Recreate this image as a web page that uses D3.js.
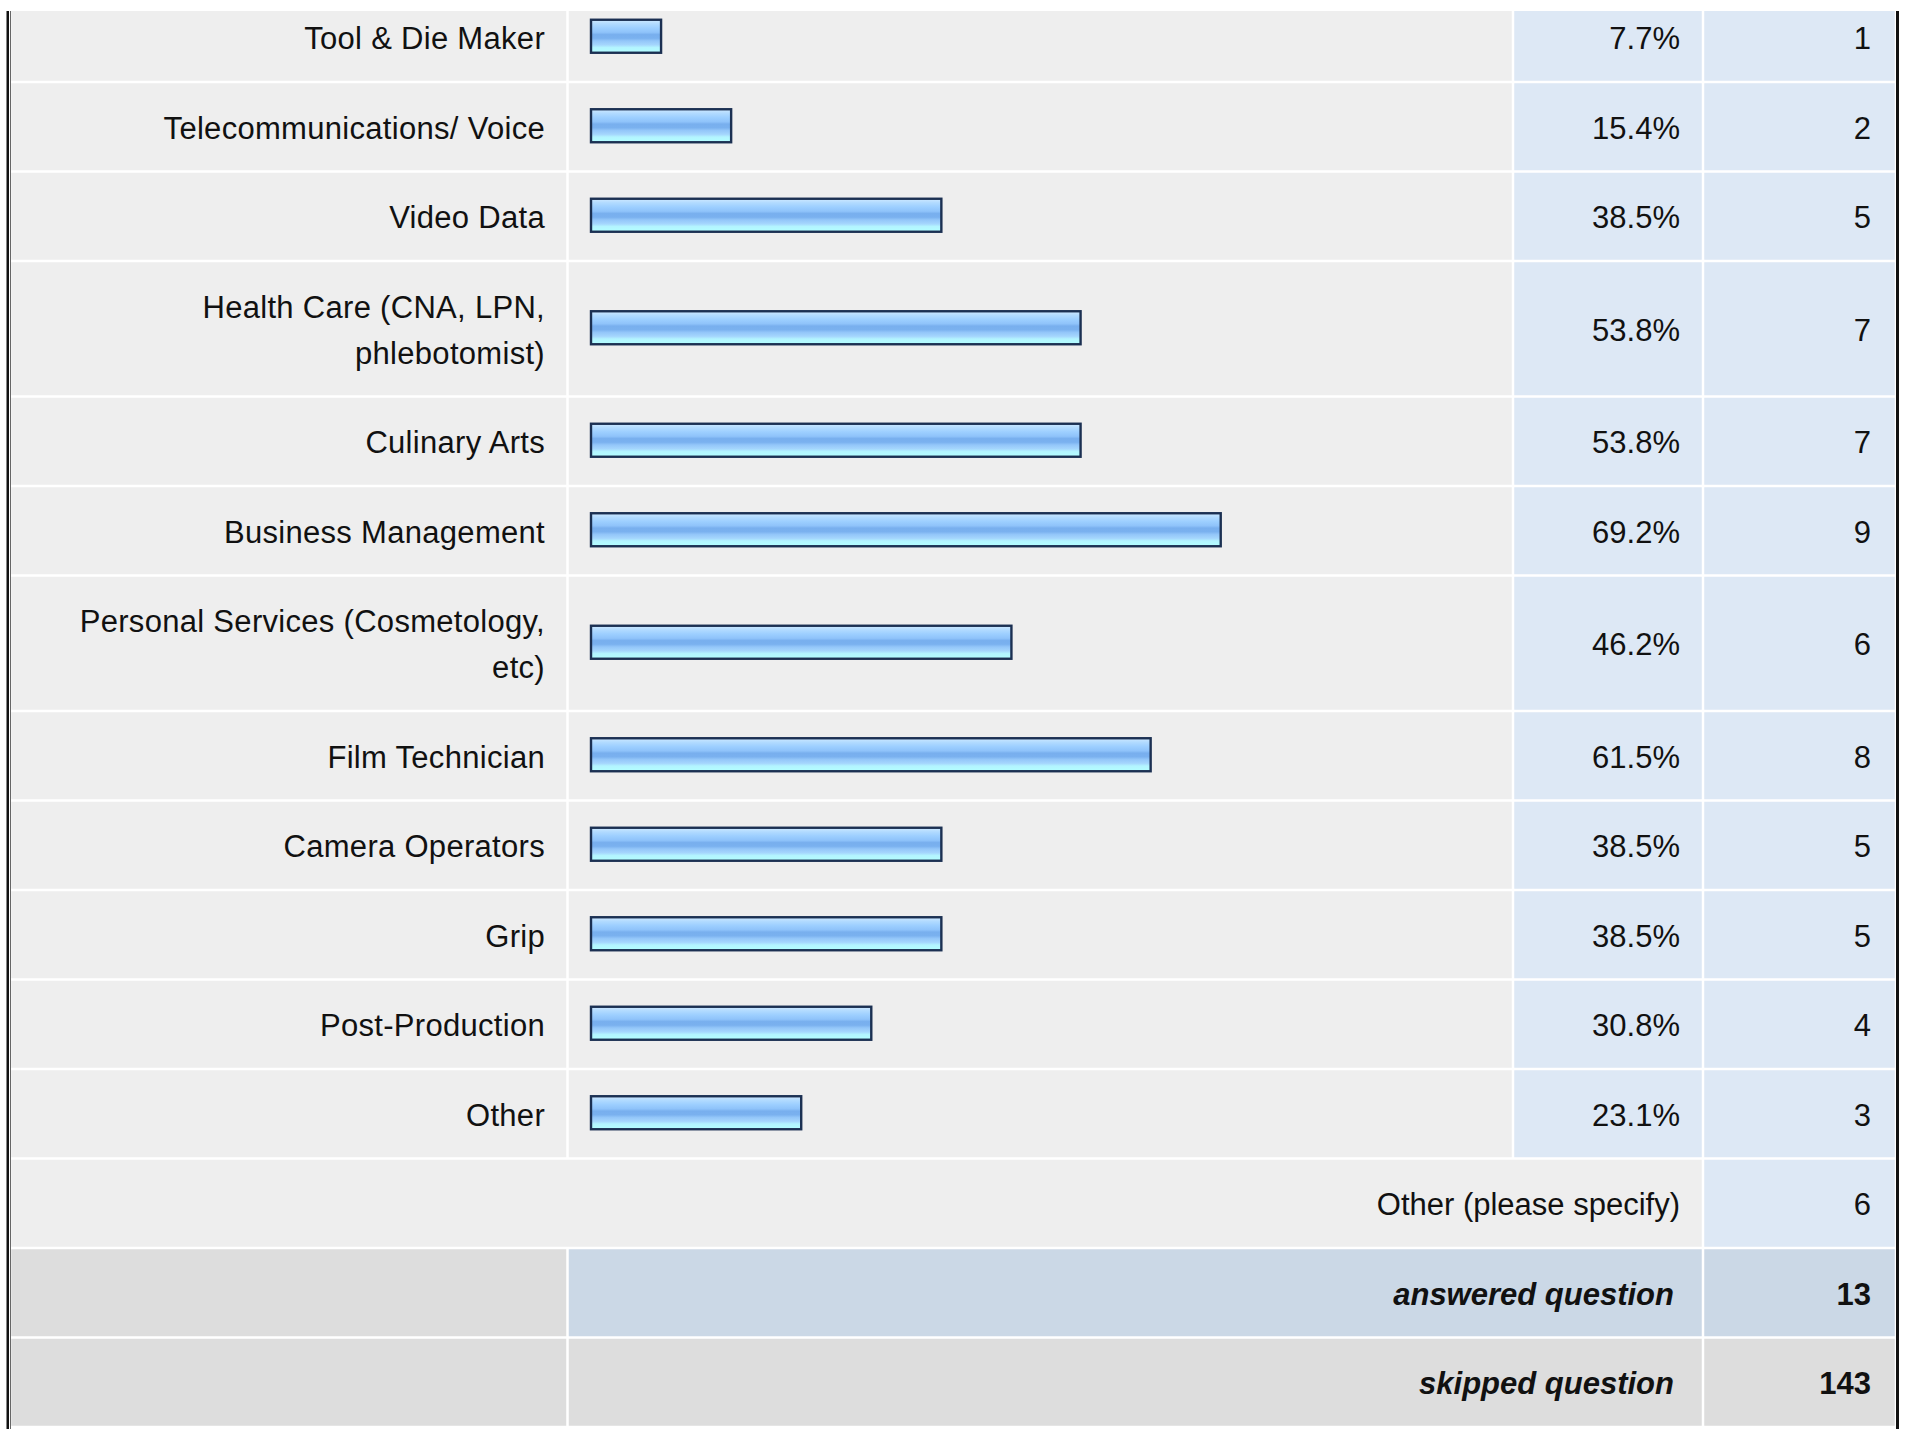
<!DOCTYPE html>
<html>
<head>
<meta charset="utf-8">
<script src="https://cdn.jsdelivr.net/npm/d3@7"></script>
<style>
  html, body { margin: 0; padding: 0; background: #ffffff; }
  svg { display: block; }
  text { font-family: "Liberation Sans", Arial, Helvetica, sans-serif; fill: #111; }
</style>
</head>
<body>
<svg id="chart" width="1913" height="1429"></svg>
<script>
// Survey answers: which training programs respondents would like offered
const categories = [
  "Tool & Die Maker",
  "Telecommunications/ Voice",
  "Video Data",
  "Health Care (CNA, LPN, phlebotomist)",
  "Culinary Arts",
  "Business Management",
  "Personal Services (Cosmetology, etc)",
  "Film Technician",
  "Camera Operators",
  "Grip",
  "Post-Production",
  "Other"
];
const percents = [7.7, 15.4, 38.5, 53.8, 53.8, 69.2, 46.2, 61.5, 38.5, 38.5, 30.8, 23.1];
const counts = [1, 2, 5, 7, 7, 9, 6, 8, 5, 5, 4, 3];

const specifyLabel = "Other (please specify)";
const specifyCount = 6;
const summaryLabels = ["answered question", "skipped question"];
const summaryCounts = [13, 143];

const W = 1913, H = 1429;
const svg = d3.select("#chart");

const FONT = 31;
const LINE = 46;
const ROW = 89.5;
const GAP = 1.25;
const BASE = 12;

// column boundaries (centre of the white gaps)
const col = { left: 10, label: 567.5, bar: 1513, pct: 1703, right: 1896 };

const x = d3.scaleLinear().domain([0, 100]).range([591, 1501]);

// gradient for the glossy bars
const defs = svg.append("defs");
const grad = defs.append("linearGradient")
  .attr("id", "barFill").attr("x1", 0).attr("y1", 0).attr("x2", 0).attr("y2", 1);
[
  [0, "#cfe9ff"], [0.12, "#b2dbff"], [0.25, "#9dcfff"], [0.38, "#8fc3fa"],
  [0.45, "#78afee"], [0.56, "#7ab1ef"], [0.64, "#93c6f9"], [0.76, "#a5d6fd"],
  [0.84, "#b3f4ff"], [1, "#b3ffff"]
].forEach(([o, c]) => grad.append("stop").attr("offset", o).attr("stop-color", c));

// wrap label text to fit the label column
const measurer = svg.append("text").attr("font-size", FONT).attr("visibility", "hidden");
function wrap(str, maxW) {
  const words = str.split(" ");
  const lines = [];
  let cur = "";
  words.forEach(w => {
    const trial = cur ? cur + " " + w : w;
    measurer.text(trial);
    if (measurer.node().getComputedTextLength() > maxW && cur) {
      lines.push(cur);
      cur = w;
    } else cur = trial;
  });
  if (cur) lines.push(cur);
  return lines;
}
const wrapped = categories.map(c => wrap(c, 500));
measurer.remove();

// row geometry
let yCursor = -7.5;
const rows = categories.map((c, i) => {
  const h = ROW + (wrapped[i].length - 1) * LINE;
  const r = { name: c, lines: wrapped[i], pct: percents[i], count: counts[i], y0: yCursor, y1: yCursor + h };
  yCursor += h;
  return r;
});
const specifyRow = { y0: yCursor, y1: yCursor + ROW }; yCursor += ROW;
const summaryRows = summaryLabels.map((l, i) => {
  const r = { label: l, count: summaryCounts[i], y0: yCursor, y1: yCursor + ROW };
  yCursor += ROW;
  return r;
});

function cell(g, x0, x1, y0, y1, fill) {
  g.append("rect")
    .attr("x", x0 + GAP).attr("y", y0 + GAP)
    .attr("width", x1 - x0 - 2 * GAP).attr("height", y1 - y0 - 2 * GAP)
    .attr("fill", fill);
}

const GREY = "#eeeeee", BLUE = "#dde8f5", DARKGREY = "#dddddd", STEEL = "#cbd8e6";

// answer rows
const rowG = svg.append("g").selectAll("g").data(rows).join("g");
rowG.each(function (d) {
  const g = d3.select(this);
  cell(g, col.left, col.label, d.y0, d.y1, GREY);
  cell(g, col.label, col.bar, d.y0, d.y1, GREY);
  cell(g, col.bar, col.pct, d.y0, d.y1, BLUE);
  cell(g, col.pct, col.right, d.y0, d.y1, BLUE);
});

const cy = d => (d.y0 + d.y1) / 2;

rowG.append("rect")
  .attr("x", x(0))
  .attr("y", d => cy(d) - 17.5)
  .attr("width", d => x(d.pct) - x(0))
  .attr("height", 33)
  .attr("fill", "url(#barFill)")
  .attr("stroke", "#1b3052")
  .attr("stroke-width", 2.4);

rowG.append("text")
  .attr("font-size", FONT)
  .attr("letter-spacing", 0.3)
  .attr("text-anchor", "end")
  .each(function (d) {
    const t = d3.select(this);
    const n = d.lines.length;
    d.lines.forEach((ln, k) => {
      t.append("tspan")
        .attr("x", 545)
        .attr("y", cy(d) + BASE + (k - (n - 1) / 2) * LINE)
        .text(ln);
    });
  });

rowG.append("text")
  .attr("font-size", FONT).attr("text-anchor", "end")
  .attr("x", 1680).attr("y", d => cy(d) + BASE)
  .text(d => d.pct.toFixed(1) + "%");

rowG.append("text")
  .attr("font-size", FONT).attr("text-anchor", "end")
  .attr("x", 1871).attr("y", d => cy(d) + BASE)
  .text(d => d.count);

// "other (please specify)" row
const sg = svg.append("g");
cell(sg, col.left, col.pct, specifyRow.y0, specifyRow.y1, GREY);
cell(sg, col.pct, col.right, specifyRow.y0, specifyRow.y1, BLUE);
sg.append("text").attr("font-size", FONT).attr("text-anchor", "end")
  .attr("x", 1680).attr("y", cy(specifyRow) + BASE).text(specifyLabel);
sg.append("text").attr("font-size", FONT).attr("text-anchor", "end")
  .attr("x", 1871).attr("y", cy(specifyRow) + BASE).text(specifyCount);

// answered / skipped summary
const sumG = svg.append("g").selectAll("g").data(summaryRows).join("g");
sumG.each(function (d, i) {
  const g = d3.select(this);
  const fill = i === 0 ? STEEL : DARKGREY;
  cell(g, col.left, col.label, d.y0, d.y1, DARKGREY);
  cell(g, col.label, col.pct, d.y0, d.y1, fill);
  cell(g, col.pct, col.right, d.y0, d.y1, fill);
  g.append("text").attr("font-size", FONT).attr("text-anchor", "end")
    .attr("font-weight", "bold").attr("font-style", "italic")
    .attr("x", 1674).attr("y", cy(d) + BASE).text(d.label);
  g.append("text").attr("font-size", FONT).attr("text-anchor", "end")
    .attr("font-weight", "bold")
    .attr("x", 1871).attr("y", cy(d) + BASE).text(d.count);
});

// white strip along the top edge and the outer frame lines
svg.append("rect").attr("x", 0).attr("y", 0).attr("width", W).attr("height", 11).attr("fill", "#ffffff");
svg.append("rect").attr("x", 6.5).attr("y", 11).attr("width", 2.5).attr("height", H - 11).attr("fill", "#111");
svg.append("rect").attr("x", 10).attr("y", 11).attr("width", 1).attr("height", H - 11).attr("fill", "#666");
svg.append("rect").attr("x", 1896).attr("y", 11).attr("width", 3).attr("height", H - 11).attr("fill", "#111");
</script>
</body>
</html>
